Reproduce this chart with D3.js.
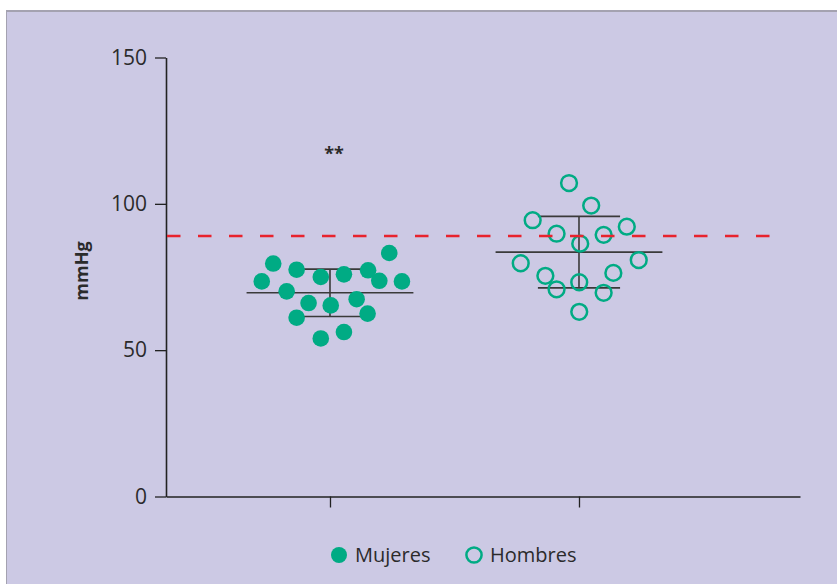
<!DOCTYPE html>
<html>
<head>
<meta charset="utf-8">
<script src="https://cdn.jsdelivr.net/npm/d3@7"></script>
<style>
  html, body { margin: 0; padding: 0; background: #ffffff; }
  svg { display: block; }
  text { font-family: "Open Sans", "Noto Sans", sans-serif; fill: #2b2b2b; }
</style>
</head>
<body>
<svg id="chart" width="837" height="584"></svg>
<script>
// Groups along the horizontal axis
const groups = ["Mujeres", "Hombres"];

// Individual readings (mmHg) per group
const mujeresValues = [83.2, 79.6, 77.5, 75.0, 75.9, 77.3, 73.5, 73.7, 73.5, 70.1, 67.4, 66.1, 65.3, 62.5, 61.1, 56.2, 54.0];
const hombresValues = [107.1, 99.4, 94.4, 92.2, 89.8, 89.4, 86.4, 79.7, 80.8, 75.4, 76.4, 70.8, 73.2, 69.6, 63.1];

// Horizontal spread of each reading around its group, in group units
const mujeresJitter = [0.238, -0.228, -0.134, -0.037, 0.056, 0.153, -0.274, 0.198, 0.289, -0.174, 0.107, -0.086, 0.003, 0.151, -0.134, 0.056, -0.037];
const hombresJitter = [-0.040, 0.049, -0.186, 0.192, -0.090, 0.099, 0.005, -0.234, 0.240, -0.135, 0.138, -0.090, 0.001, 0.099, 0.001];

// Group mean and standard deviation
const groupMeans = [69.6, 83.5];
const groupSD = [8.1, 12.2];

// Reference threshold and axis ticks
const referenceValue = 89;
const yTicks = [0, 50, 100, 150];
const significanceLabel = "**";
const significanceValue = 117.5;

const svg = d3.select("#chart");

// Panel background and frame
svg.append("rect").attr("x", 6).attr("y", 10).attr("width", 837).attr("height", 584).attr("fill", "#ccc9e4");
svg.append("line").attr("x1", 6).attr("x2", 837).attr("y1", 11).attr("y2", 11).attr("stroke", "#a4a2b0").attr("stroke-width", 2);
svg.append("line").attr("x1", 6.5).attr("x2", 6.5).attr("y1", 10).attr("y2", 584).attr("stroke", "#a4a2b0").attr("stroke-width", 1);

const y = d3.scaleLinear().domain([0, 150]).range([496.5, 57.5]);
const x = d3.scaleLinear().domain([-0.6586, 1.8876]).range([166, 800]);

const axisColor = "#222222";
const green = "#00ab84";

// Y axis
const yAxis = svg.append("g").attr("transform", "translate(166,0)")
  .call(d3.axisLeft(y).tickValues(yTicks).tickSize(11).tickSizeOuter(0).tickPadding(8));
yAxis.select(".domain").attr("stroke", axisColor).attr("stroke-width", 1.6);
yAxis.selectAll(".tick line").attr("stroke", axisColor).attr("stroke-width", 1.3);
yAxis.selectAll(".tick text").attr("font-size", 21).attr("fill", "#2b2b2b")
  .attr("font-family", "'Open Sans', sans-serif");

// X axis
const xAxis = svg.append("g").attr("transform", "translate(0," + y(0) + ")")
  .call(d3.axisBottom(x).tickValues([0, 1]).tickFormat("").tickSize(11).tickSizeOuter(0));
xAxis.select(".domain").attr("stroke", axisColor).attr("stroke-width", 1.6);
xAxis.selectAll(".tick line").attr("stroke", axisColor).attr("stroke-width", 1.3);

// Y axis title
svg.append("text")
  .attr("transform", "translate(88," + 271 + ") rotate(-90)")
  .attr("text-anchor", "middle")
  .attr("font-size", 18)
  .attr("font-weight", 700)
  .text("mmHg");

// Mean and SD bars
const summary = groups.map((g, i) => ({ i, mean: groupMeans[i], sd: groupSD[i] }));
const bars = svg.append("g").attr("stroke", "#3a3a3a").attr("stroke-width", 1.6).attr("fill", "none");
summary.forEach(s => {
  bars.append("line").attr("x1", x(s.i - 0.335)).attr("x2", x(s.i + 0.335)).attr("y1", y(s.mean)).attr("y2", y(s.mean));
  bars.append("line").attr("x1", x(s.i)).attr("x2", x(s.i)).attr("y1", y(s.mean + s.sd)).attr("y2", y(s.mean - s.sd));
  bars.append("line").attr("x1", x(s.i - 0.165)).attr("x2", x(s.i + 0.165)).attr("y1", y(s.mean + s.sd)).attr("y2", y(s.mean + s.sd));
  bars.append("line").attr("x1", x(s.i - 0.165)).attr("x2", x(s.i + 0.165)).attr("y1", y(s.mean - s.sd)).attr("y2", y(s.mean - s.sd));
});

// Individual readings
const mujeres = mujeresValues.map((v, k) => ({ v, j: mujeresJitter[k] }));
const hombres = hombresValues.map((v, k) => ({ v, j: hombresJitter[k] }));

svg.append("g").selectAll("circle").data(mujeres).join("circle")
  .attr("cx", d => x(0 + d.j)).attr("cy", d => y(d.v)).attr("r", 8.3)
  .attr("fill", green);

svg.append("g").selectAll("circle").data(hombres).join("circle")
  .attr("cx", d => x(1 + d.j)).attr("cy", d => y(d.v)).attr("r", 7.9)
  .attr("fill", "none").attr("stroke", green).attr("stroke-width", 2.5);

// Reference threshold line
svg.append("line")
  .attr("x1", x(-0.6586) + 1).attr("x2", 770)
  .attr("y1", y(referenceValue)).attr("y2", y(referenceValue))
  .attr("stroke", "#e8232d").attr("stroke-width", 2.6)
  .attr("stroke-dasharray", "13.5,17.5");

// Significance marker
svg.append("text")
  .attr("x", x(0) + 4).attr("y", y(significanceValue) + 7)
  .attr("text-anchor", "middle").attr("font-size", 18).attr("font-weight", 700)
  .text(significanceLabel);

// Legend
const legend = svg.append("g");
legend.append("circle").attr("cx", 339).attr("cy", 555).attr("r", 8).attr("fill", green);
legend.append("text").attr("x", 355).attr("y", 562).attr("font-size", 20).text(groups[0]);
legend.append("circle").attr("cx", 474).attr("cy", 555).attr("r", 7.6)
  .attr("fill", "none").attr("stroke", green).attr("stroke-width", 2.5);
legend.append("text").attr("x", 490).attr("y", 562).attr("font-size", 20).text(groups[1]);
</script>
</body>
</html>
